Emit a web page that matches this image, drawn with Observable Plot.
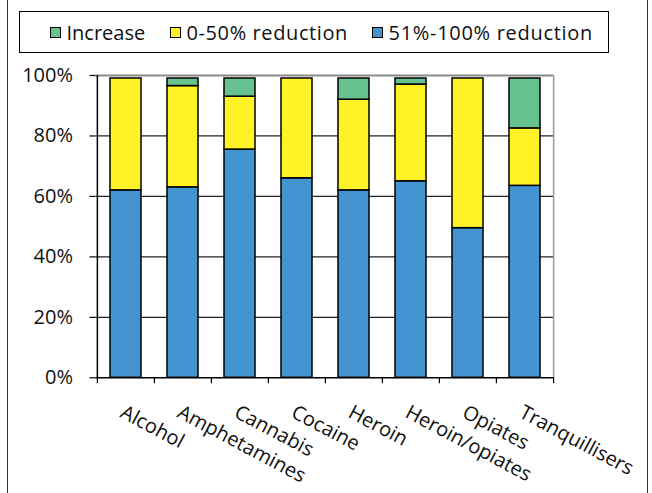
<!DOCTYPE html>
<html><head><meta charset="utf-8">
<script src="https://cdn.jsdelivr.net/npm/d3@7"></script>
<script src="https://cdn.jsdelivr.net/npm/@observablehq/plot@0.6"></script>
<style>
body{margin:0;background:#fff;font-family:"Open Sans",sans-serif;}
#wrap{position:relative;width:652px;height:493px;overflow:hidden;background:#fff;}
.vline{position:absolute;top:0;bottom:0;width:1.5px;background:#333;}
#legend{position:absolute;left:19px;top:11px;width:590px;height:42px;box-sizing:border-box;border:1.5px solid #000;}
.item{position:absolute;top:0;height:100%;display:flex;align-items:center;font-size:20px;color:#111;white-space:nowrap;}
.sw{width:11px;height:11px;box-sizing:border-box;border:1.5px solid #000;margin-right:6px;}
#chart{position:absolute;left:0;top:60px;}
</style></head>
<body><div id="wrap">
<div class="vline" style="left:6.5px"></div>
<div class="vline" style="left:646.5px"></div>
<div id="legend"></div>
<div id="chart"></div>
</div>
<script>
const categories = ["Alcohol","Amphetamines","Cannabis","Cocaine","Heroin","Heroin/opiates","Opiates","Tranquillisers"];
const series = ["51%-100% reduction","0-50% reduction","Increase"];
const reduction51to100 = [62, 63, 75.5, 66, 62, 65, 49.5, 63.5];
const reduction0to50   = [37, 33.5, 17.5, 33, 30, 32, 49.5, 19];
const increase         = [0, 2.5, 6, 0, 7, 2, 0, 16.5];
const yTicks = [0, 20, 40, 60, 80, 100];
const colors = ["#4394d0", "#fff226", "#66c28e"];
const legendOrder = ["Increase", "0-50% reduction", "51%-100% reduction"];

const seriesValues = [reduction51to100, reduction0to50, increase];
const rows = [];
categories.forEach((c, i) => {
  seriesValues.forEach((arr, j) => {
    if (arr[i] > 0) rows.push({category: c, series: series[j], value: arr[i]});
  });
});

// legend
const legendX = [29.5, 149.5, 351.5];
const legendSpacing = ["0px", "0.6px", "0.7px"];
const legend = document.getElementById("legend");
legendOrder.forEach((s, k) => {
  const it = document.createElement("div");
  it.className = "item";
  it.style.left = legendX[k] + "px";
  const sw = document.createElement("div");
  sw.className = "sw";
  sw.style.background = colors[series.indexOf(s)];
  const tx = document.createElement("span");
  tx.textContent = s;
  tx.style.letterSpacing = legendSpacing[k];
  it.appendChild(sw); it.appendChild(tx);
  legend.appendChild(it);
});

const W = 652, H = 433, mL = 95.5, mR = 98.5, mT = 15, mB = 115.7;
const bw = (W - mL - mR) / categories.length;
const last = categories[categories.length - 1];

const chart = Plot.plot({
  width: W, height: H,
  marginLeft: mL, marginRight: mR, marginTop: mT, marginBottom: mB,
  style: {fontFamily: "Open Sans", fontSize: "20px", color: "#111", background: "transparent", overflow: "visible"},
  x: {domain: categories, padding: 0, label: null},
  y: {domain: [0, 100], label: null},
  color: {domain: series, range: colors},
  marks: [
    Plot.ruleY([20, 40, 60, 80], {stroke: "#222", strokeWidth: 1.2}),
    Plot.ruleY([100], {stroke: "#8a8a8a", strokeWidth: 2}),
    Plot.ruleX([last], {dx: bw / 2, y1: 0, y2: 100, stroke: "#999", strokeWidth: 1.5}),
    Plot.barY(rows, {x: "category", y: "value", fill: "series", stroke: "#000", strokeWidth: 1.5, insetLeft: 13, insetRight: 13}),
    Plot.ruleY([0], {stroke: "#000", strokeWidth: 1.5}),
    Plot.ruleX([categories[0]], {dx: -bw / 2, y1: 0, y2: 100, stroke: "#000", strokeWidth: 1.5}),
    Plot.axisY({ticks: yTicks, tickFormat: d => d + "%", tickSize: 6, tickPadding: 17, stroke: "#000", strokeWidth: 1.2, fill: "#111"}),
    Plot.axisX({tickSize: 6, text: null, dx: -bw / 2, stroke: "#000", strokeWidth: 1.2}),
    Plot.axisX({ticks: [last], tickSize: 6, text: null, dx: bw / 2, stroke: "#000", strokeWidth: 1.2}),
    Plot.axisX({tickSize: 0, tickPadding: 0, tickRotate: 28, dx: -4, dy: 33, fill: "#111"})
  ]
});
document.getElementById("chart").appendChild(chart);
</script>
</body></html>
